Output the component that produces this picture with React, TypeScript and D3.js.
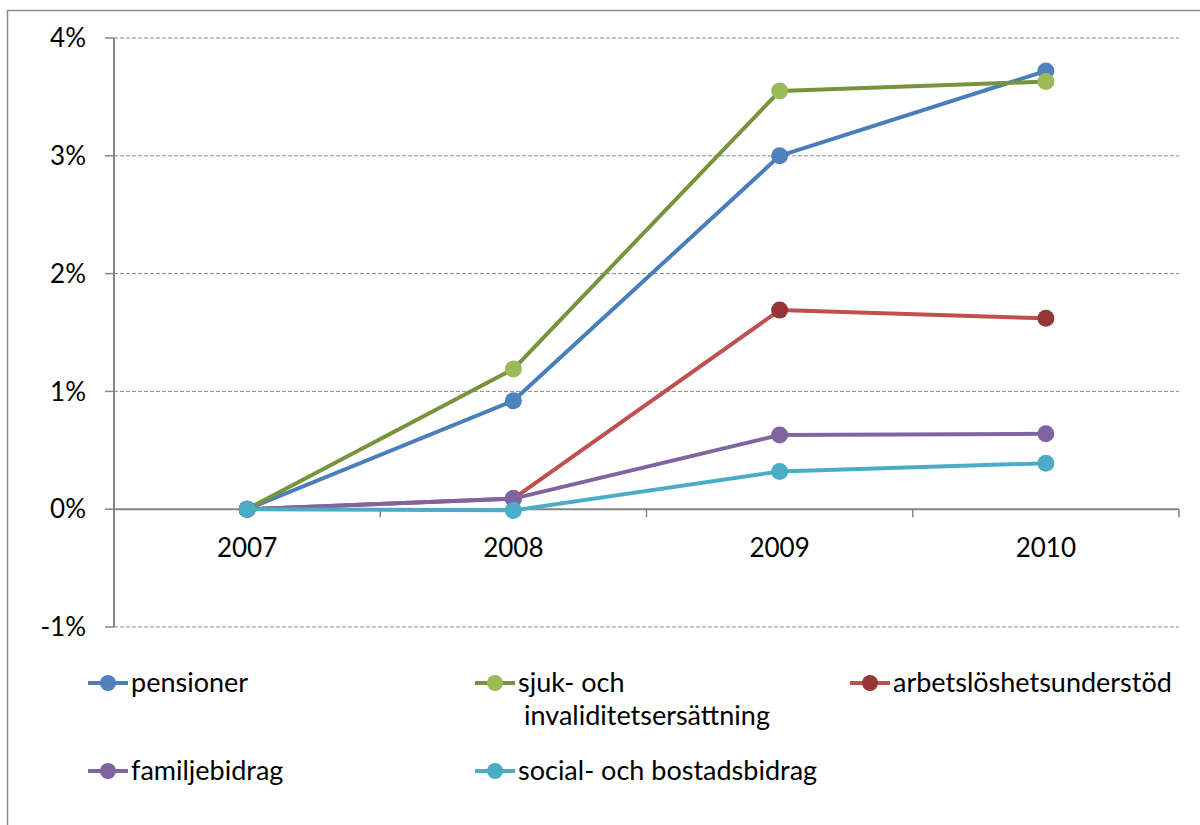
import React from "react";
import * as d3 from "d3";

const years = ["2007", "2008", "2009", "2010"];
const yTicks = [-0.01, 0, 0.01, 0.02, 0.03, 0.04];

const pensioner = [0, 0.0092, 0.03, 0.0372];
const sjuk = [0, 0.0119, 0.0355, 0.0363];
const arbetsloshet = [0, 0.0009, 0.0169, 0.0162];
const familjebidrag = [0, 0.0009, 0.0063, 0.0064];
const social = [0, -0.0001, 0.0032, 0.0039];

const seriesNames = [
  "pensioner",
  "sjuk- och invaliditetsersättning",
  "arbetslöshetsunderstöd",
  "familjebidrag",
  "social- och bostadsbidrag",
];

const series = [
  { name: seriesNames[0], values: pensioner, line: "#4A7EBB", marker: "#4F81BD" },
  { name: seriesNames[1], values: sjuk, line: "#77933C", marker: "#9BBB59" },
  { name: seriesNames[2], values: arbetsloshet, line: "#C0504D", marker: "#953735" },
  { name: seriesNames[3], values: familjebidrag, line: "#8064A2", marker: "#8064A2" },
  { name: seriesNames[4], values: social, line: "#4BACC6", marker: "#4BACC6" },
];

const FONT = "Lato, 'Open Sans', sans-serif";

export default function App() {
  const left = 114;
  const right = 1179;
  const top = 38;
  const bottom = 627;

  const x = d3.scaleBand<string>().domain(years).range([left, right]);
  const y = d3.scaleLinear().domain([-0.01, 0.04]).range([bottom, top]);
  const fmt = (t: number) => d3.format(".0%")(t).replace("\u2212", "-");
  const cx = (yr: string) => (x(yr) ?? 0) + x.bandwidth() / 2;

  const path = d3
    .line<number>()
    .x((_, i) => cx(years[i]))
    .y((d) => y(d));

  const legendPos = [
    { lx: 88, ly: 683 },
    { lx: 475, ly: 683 },
    { lx: 850, ly: 683 },
    { lx: 88, ly: 771 },
    { lx: 475, ly: 771 },
  ];

  const boundaries = years.slice(1).map((yr) => x(yr) ?? 0).concat([right]);

  return (
    <svg
      width={1200}
      height={825}
      style={{ position: "absolute", left: 0, top: 0, background: "#fff" }}
      fontFamily={FONT}
    >
      <rect x={7.5} y={10.5} width={1210} height={830} fill="#fff" stroke="#8c8c8c" strokeWidth={1.5} />

      {/* gridlines */}
      {yTicks.map((t) =>
        t === 0 ? null : (
          <line
            key={t}
            x1={left}
            x2={right}
            y1={y(t)}
            y2={y(t)}
            stroke="#8a8a8a"
            strokeWidth={1}
            strokeDasharray="4,2"
          />
        )
      )}

      {/* y axis */}
      <line x1={left} x2={left} y1={top} y2={bottom} stroke="#868686" strokeWidth={2} />
      {yTicks.map((t) => (
        <g key={"t" + t}>
          <line x1={left - 9} x2={left} y1={y(t)} y2={y(t)} stroke="#868686" strokeWidth={1.5} />
          <text x={86} y={y(t)} dy="0.35em" textAnchor="end" fontSize={26} fill="#000">
            {fmt(t)}
          </text>
        </g>
      ))}

      {/* x axis at zero */}
      <line x1={left} x2={right} y1={y(0)} y2={y(0)} stroke="#868686" strokeWidth={2} />
      {boundaries.map((b) => (
        <line key={"b" + b} x1={b} x2={b} y1={y(0)} y2={y(0) + 8} stroke="#868686" strokeWidth={1.5} />
      ))}
      {years.map((yr) => (
        <text key={yr} x={cx(yr)} y={548} dy="0.35em" textAnchor="middle" fontSize={26} fill="#000">
          {yr}
        </text>
      ))}

      {/* series */}
      {series.map((s) => (
        <g key={s.name}>
          <path d={path(s.values) ?? ""} fill="none" stroke={s.line} strokeWidth={4} strokeLinejoin="round" />
          {s.values.map((v, i) => (
            <circle key={i} cx={cx(years[i])} cy={y(v)} r={8.5} fill={s.marker} />
          ))}
        </g>
      ))}

      {/* legend */}
      {series.map((s, i) => {
        const { lx, ly } = legendPos[i];
        const words = s.name === seriesNames[1] ? ["sjuk- och", "invaliditetsersättning"] : [s.name];
        return (
          <g key={"l" + s.name}>
            <line x1={lx} x2={lx + 40} y1={ly} y2={ly} stroke={s.line} strokeWidth={4} />
            <circle cx={lx + 20} cy={ly} r={8} fill={s.marker} />
            {words.map((w, j) => (
              <text
                key={w}
                x={lx + 43 + (j > 0 ? 6 : 0)}
                y={ly + j * 33}
                dy="0.35em"
                fontSize={27}
                fill="#000"
              >
                {w}
              </text>
            ))}
          </g>
        );
      })}
    </svg>
  );
}
